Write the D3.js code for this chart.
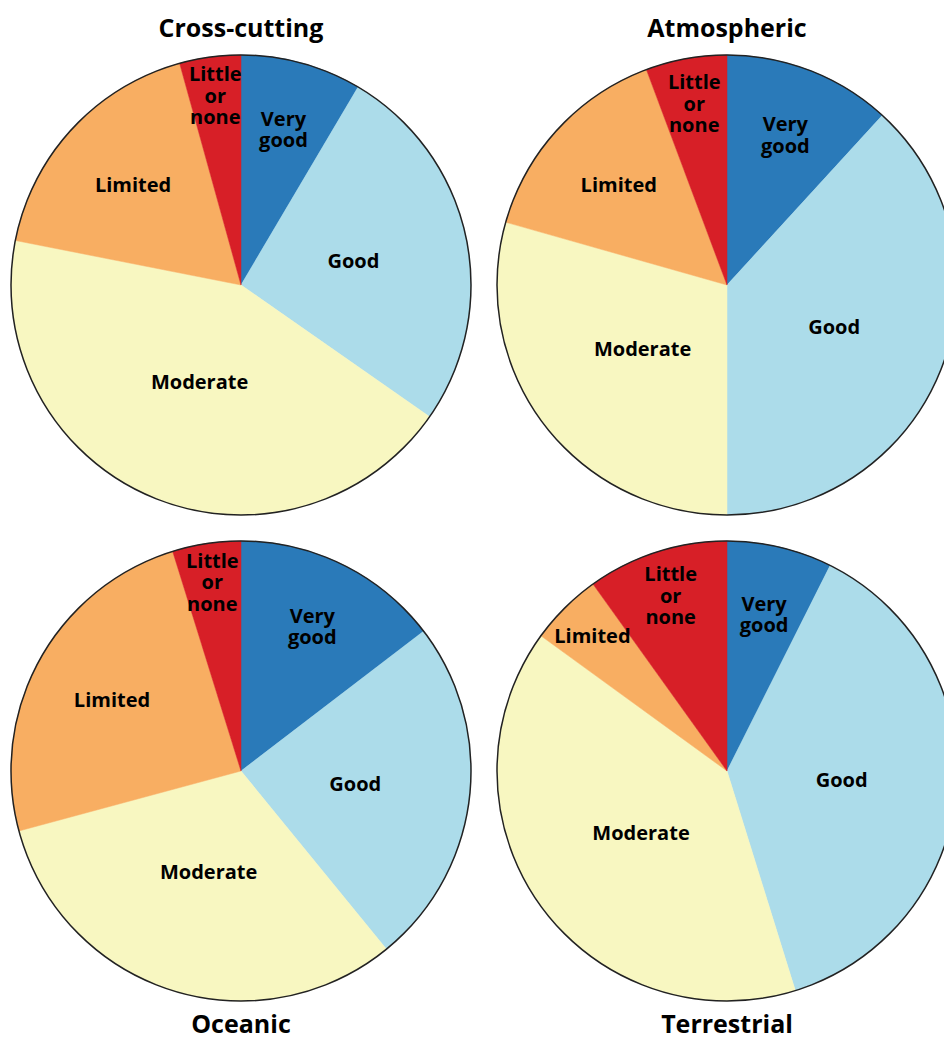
<!DOCTYPE html>
<html>
<head>
<meta charset="utf-8">
<script src="https://cdn.jsdelivr.net/npm/d3@7"></script>
<style>
  html, body { margin: 0; padding: 0; background: #fff; }
  svg { display: block; }
  text { font-family: "Open Sans", "Noto Sans", sans-serif; fill: #000; }
</style>
</head>
<body>
<svg id="chart" width="944" height="1039"></svg>
<script>
// ---- Data ----
const categories = ["Very good", "Good", "Moderate", "Limited", "Little or none"];
const panels = ["Cross-cutting", "Atmospheric", "Oceanic", "Terrestrial"];
const crossCutting = [8.5, 26.2, 43.4, 17.6, 4.3];
const atmospheric  = [11.8, 38.2, 29.4, 14.9, 5.7];
const oceanic      = [14.6, 24.5, 31.7, 24.4, 4.8];
const terrestrial  = [7.4, 37.8, 39.8, 5.1, 9.9];
const seriesValues = [crossCutting, atmospheric, oceanic, terrestrial];

// ---- Styles ----
const colors = ["#2a7ab9", "#acdcea", "#f8f7c1", "#f8ae62", "#d71f27"];
const labelLines = {
  "Very good": ["Very", "good"],
  "Good": ["Good"],
  "Moderate": ["Moderate"],
  "Limited": ["Limited"],
  "Little or none": ["Little", "or", "none"]
};
const labelRadiusFactor = {
  "Very good": 0.70, "Good": 0.50, "Moderate": 0.46, "Limited": 0.64, "Little or none": 0.80
};

const W = 944, H = 1039;
const R = 230;
const colX = [241, 727];
const rowY = [285, 771];

const svg = d3.select("#chart");
const color = d3.scaleOrdinal().domain(categories).range(colors);

const pie = d3.pie().sort(null).value(d => d.value);
const arc = d3.arc().innerRadius(0).outerRadius(R);

panels.forEach((name, i) => {
  const cx = colX[i % 2], cy = rowY[Math.floor(i / 2)];
  const data = categories.map((c, j) => ({ category: c, value: seriesValues[i][j] }));
  const arcs = pie(data);
  const g = svg.append("g").attr("transform", `translate(${cx},${cy})`);

  g.selectAll("path.slice").data(arcs).join("path")
    .attr("class", "slice")
    .attr("d", arc)
    .attr("fill", d => color(d.data.category))
    .attr("stroke", d => color(d.data.category))
    .attr("stroke-width", 0.5);

  g.append("circle").attr("r", R)
    .attr("fill", "none").attr("stroke", "#222").attr("stroke-width", 1.5);

  const lineH = 21.5;
  arcs.forEach(d => {
    const span = (d.endAngle - d.startAngle) * 180 / Math.PI;
    let f = labelRadiusFactor[d.data.category];
    if (span < 20) f = 0.83;
    const la = d3.arc().innerRadius(R * f).outerRadius(R * f);
    const [x, y] = la.centroid(d);
    const lines = labelLines[d.data.category];
    const t = g.append("text")
      .attr("text-anchor", "middle")
      .attr("font-size", 20)
      .attr("font-weight", 700)
      .attr("transform", `translate(${x},${y})`);
    lines.forEach((ln, k) => {
      t.append("tspan")
        .attr("x", 0)
        .attr("y", (k - (lines.length - 1) / 2) * lineH)
        .attr("dy", "0.35em")
        .text(ln);
    });
  });

  const top = i < 2;
  svg.append("text")
    .attr("x", cx)
    .attr("y", top ? 37 : 1033)
    .attr("text-anchor", "middle")
    .attr("font-size", 25)
    .attr("font-weight", 700)
    .text(name);
});
</script>
</body>
</html>
